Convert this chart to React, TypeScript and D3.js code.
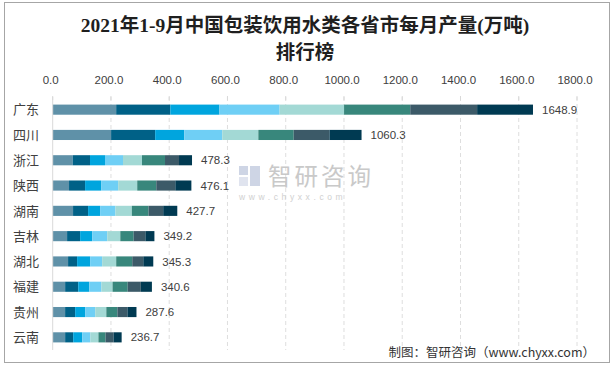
import React, { useEffect } from 'react';
import * as d3 from 'd3';

// 省市
const provinces = ['广东', '四川', '浙江', '陕西', '湖南', '吉林', '湖北', '福建', '贵州', '云南'];
// 月份（1-2月合并）
const months = ['1-2月', '3月', '4月', '5月', '6月', '7月', '8月', '9月'];
// 每月产量 (万吨)，按省市排列
const guangdong = [217.9, 185.9, 168.7, 206.5, 221.3, 227.2, 229.6, 191.8];
const sichuan = [200.5, 151.3, 99.7, 130.7, 123.8, 121.4, 122.8, 110.1];
const zhejiang = [68.7, 59.4, 51.5, 61.8, 65.2, 79.0, 48.1, 44.6];
const shaanxi = [56.1, 55.1, 55.1, 58.5, 65.4, 65.4, 65.4, 55.1];
const hunan = [69.9, 51.6, 41.3, 52.7, 56.2, 57.3, 50.4, 48.3];
const jilin = [49.4, 44.8, 41.4, 51.7, 44.8, 45.9, 40.2, 31.0];
const hubei = [52.8, 31.0, 44.7, 41.3, 48.2, 55.1, 37.9, 34.3];
const fujian = [42.7, 45.0, 38.1, 41.6, 38.1, 52.0, 45.0, 38.1];
const guizhou = [42.6, 34.5, 34.5, 34.5, 38.0, 38.0, 34.5, 31.0];
const yunnan = [42.7, 27.7, 31.2, 27.7, 27.7, 24.3, 27.7, 27.7];
// 合计标签
const totals = [1648.9, 1060.3, 478.3, 476.1, 427.7, 349.2, 345.3, 340.6, 287.6, 236.7];
const xTicks = [0, 200, 400, 600, 800, 1000, 1200, 1400, 1600, 1800];

const series = [guangdong, sichuan, zhejiang, shaanxi, hunan, jilin, hubei, fujian, guizhou, yunnan];
const colors = ['#5f91a8', '#006187', '#00a5de', '#6fcff5', '#a3d9d5', '#38877c', '#3c5a68', '#003a52'];

const W = 615;
const H = 367;

export default function App() {
  useEffect(() => {
    document.body.style.margin = '0';
  }, []);

  const table = provinces.map((p, i) => {
    const row: any = { name: p };
    months.forEach((m, j) => { row[m] = series[i][j]; });
    return row;
  });
  const stacked = d3.stack().keys(months)(table);

  const x = d3.scaleLinear().domain([0, 1800]).range([52.7, 577]);
  const y = d3.scaleBand().domain(provinces).range([97, 350]).paddingInner(0.6).paddingOuter(0.3);
  const color = d3.scaleOrdinal<string, string>().domain(months).range(colors);

  const numFont = '"Liberation Sans", Arial, sans-serif';
  const cjkFont = '"Noto Sans CJK SC", sans-serif';

  return (
    <svg width={W} height={H} style={{ display: 'block', background: '#fff' }}>
      <rect x={4.5} y={2.5} width={605} height={360} fill="#fff" stroke="#a6a6a6" />

      <text x={305} y={32} textAnchor="middle" fontSize={19.5} fontWeight="bold" fill="#1f1f1f"
        fontFamily={'"Liberation Serif", "Noto Sans CJK SC", serif'}>
        2021年1-9月中国包装饮用水类各省市每月产量(万吨)
      </text>
      <text x={305} y={59} textAnchor="middle" fontSize={19.5} fontWeight="bold" fill="#1f1f1f"
        fontFamily={'"Liberation Serif", "Noto Sans CJK SC", serif'}>
        排行榜
      </text>

      {/* 网格线 */}
      {xTicks.map(t => (
        <g key={t}>
          {t > 0 && (
            <line x1={x(t)} x2={x(t)} y1={97} y2={350} stroke="#dedede" strokeDasharray="4,3" />
          )}
          <line x1={x(t)} x2={x(t)} y1={96} y2={100} stroke="#d9d9d9" />
          <text x={x(t) - 2} y={84} textAnchor="middle" fontSize={11.5} fill="#404040" fontFamily={numFont}>
            {d3.format('.1f')(t)}
          </text>
        </g>
      ))}

      {/* 水印 */}
      <g opacity={0.9}>
        <rect x={239} y={166} width={9} height={9} fill="#c9d1e3" />
        <rect x={250} y={166} width={10} height={20} fill="#c9d1e3" />
        <rect x={239} y={177} width={9} height={9} fill="#dde2ee" />
        <text x={268} y={185} fontSize={23.5} letterSpacing={3} fill="#c4c4c4" fontFamily={cjkFont}>智研咨询</text>
        <text x={239} y={200} fontSize={8.5} letterSpacing={3.6} fill="#cccccc" fontFamily={numFont}>www.chyxx.com</text>
      </g>

      {/* 堆叠条形 */}
      {stacked.map(s => (
        <g key={s.key} fill={color(s.key)}>
          {s.map((d, i) => (
            <rect key={i} x={x(d[0])} y={y(provinces[i])!} width={x(d[1]) - x(d[0])} height={y.bandwidth()} />
          ))}
        </g>
      ))}

      <line x1={52.7} x2={52.7} y1={97} y2={350} stroke="#d9d9d9" />

      {provinces.map((p, i) => (
        <g key={p}>
          <text x={13} y={y(p)! + y.bandwidth() / 2} dy="0.36em" fontSize={13} fill="#404040" fontFamily={cjkFont}>
            {p}
          </text>
          <text x={x(totals[i]) + 9} y={y(p)! + y.bandwidth() / 2} dy="0.36em" fontSize={11.5} fill="#404040"
            fontFamily={numFont}>
            {d3.format('.1f')(totals[i])}
          </text>
        </g>
      ))}

      <text x={595} y={357} textAnchor="end" fontSize={12.5} fill="#333" fontFamily={cjkFont}>
        制图：智研咨询（www.chyxx.com）
      </text>
    </svg>
  );
}
